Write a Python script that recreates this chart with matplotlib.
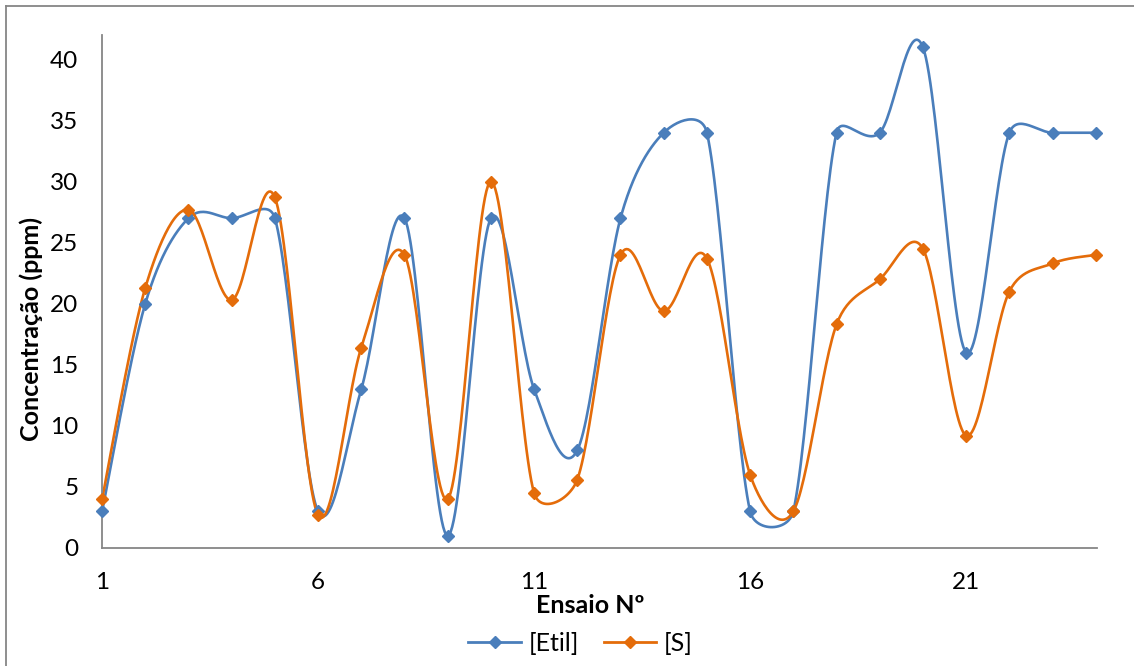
import numpy as np
import matplotlib
matplotlib.use('Agg')
import matplotlib.pyplot as plt
from matplotlib.lines import Line2D

plt.rcParams['font.family'] = ['Lato', 'DejaVu Sans']

ensaio = list(range(1, 25))
etil = [3, 20, 27, 27, 27, 3, 13, 27, 1, 27, 13, 8, 27, 34, 34, 3, 3, 34, 34, 41, 16, 34, 34, 34]
s_vals = [4, 21.3, 27.7, 20.3, 28.7, 2.7, 16.4, 24, 4, 30, 4.5, 5.6, 24, 19.4, 23.7, 6, 3, 18.3, 22, 24.5, 9.2, 21, 23.3, 24]
xticks = [1, 6, 11, 16, 21]
yticks = [0, 5, 10, 15, 20, 25, 30, 35, 40]

blue = '#4a7ebb'
orange = '#e46c0a'

XMIN, XMAX, YMIN, YMAX = 1, 24.03, 0, 42
W_PX, H_PX = 995, 513   # plot area size in pixels, used for screen-space smoothing


def smooth(x, y, n=30):
    # Excel-style smoothed line: bezier with catmull-rom handles, clamped to half the segment
    sx = W_PX / (XMAX - XMIN)
    sy = H_PX / (YMAX - YMIN)
    P = np.column_stack([np.asarray(x, float) * sx, np.asarray(y, float) * sy])
    Q = np.vstack([P[0], P, P[-1]])
    t = np.linspace(0, 1, n)[:, None]
    out = []
    for i in range(len(P) - 1):
        p0, p3 = P[i], P[i + 1]
        d12 = np.linalg.norm(p3 - p0)
        t0 = Q[i + 2] - Q[i]
        t1 = Q[i + 3] - Q[i + 1]
        l0 = np.linalg.norm(t0)
        l1 = np.linalg.norm(t1)
        f0 = min(1 / 6, d12 / (2 * l0)) if l0 > 0 else 0
        f1 = min(1 / 6, d12 / (2 * l1)) if l1 > 0 else 0
        p1 = p0 + t0 * f0
        p2 = p3 - t1 * f1
        b = (1 - t) ** 3 * p0 + 3 * (1 - t) ** 2 * t * p1 + 3 * (1 - t) * t ** 2 * p2 + t ** 3 * p3
        out.append(b)
    out = np.vstack(out)
    return out[:, 0] / sx, out[:, 1] / sy


fig = plt.figure(figsize=(11.34, 6.66), dpi=100)
ax = fig.add_axes([0.09, 0.1772, 0.8774, 0.7702])

for vals, c in [(etil, blue), (s_vals, orange)]:
    sx, sy = smooth(ensaio, vals)
    ax.plot(sx, sy, color=c, lw=1.9, zorder=2, clip_on=False)
    ax.plot(ensaio, vals, ls='none', marker='D', ms=6, color=c, zorder=3, clip_on=False)

ax.set_xlim(XMIN, XMAX)
ax.set_ylim(YMIN, YMAX)
ax.set_xticks(xticks)
ax.set_yticks(yticks)
ax.tick_params(length=0, labelsize=17.5, colors='black')
ax.tick_params(axis='x', pad=17)
ax.tick_params(axis='y', pad=17)
for side in ['top', 'right']:
    ax.spines[side].set_visible(False)
for side in ['left', 'bottom']:
    ax.spines[side].set_color('#868686')
    ax.spines[side].set_linewidth(1.3)

ax.set_xlabel('Ensaio Nº', fontsize=18, fontweight='bold', va='center')
ax.xaxis.set_label_coords(0.4905, -0.112)
ax.set_ylabel('Concentração (ppm)', fontsize=18, fontweight='bold', va='center')
ax.yaxis.set_label_coords(-0.0714, 0.427)

handles = [Line2D([], [], color=blue, lw=2, marker='D', ms=6),
           Line2D([], [], color=orange, lw=2, marker='D', ms=6)]
fig.legend(handles, ['[Etil]', '[S]'], loc='center', bbox_to_anchor=(0.512, 0.0345),
           ncol=2, frameon=False, fontsize=18, handlelength=2.1, columnspacing=1.0,
           handletextpad=0.3)

# outer chart border (left and top visible)
fig.add_artist(Line2D([6 / 1134, 6 / 1134], [0, 1 - 6 / 666], color='#868686', lw=1.3))
fig.add_artist(Line2D([6 / 1134, 1], [1 - 6 / 666, 1 - 6 / 666], color='#868686', lw=1.3))

fig.savefig('out.png', dpi=100)
